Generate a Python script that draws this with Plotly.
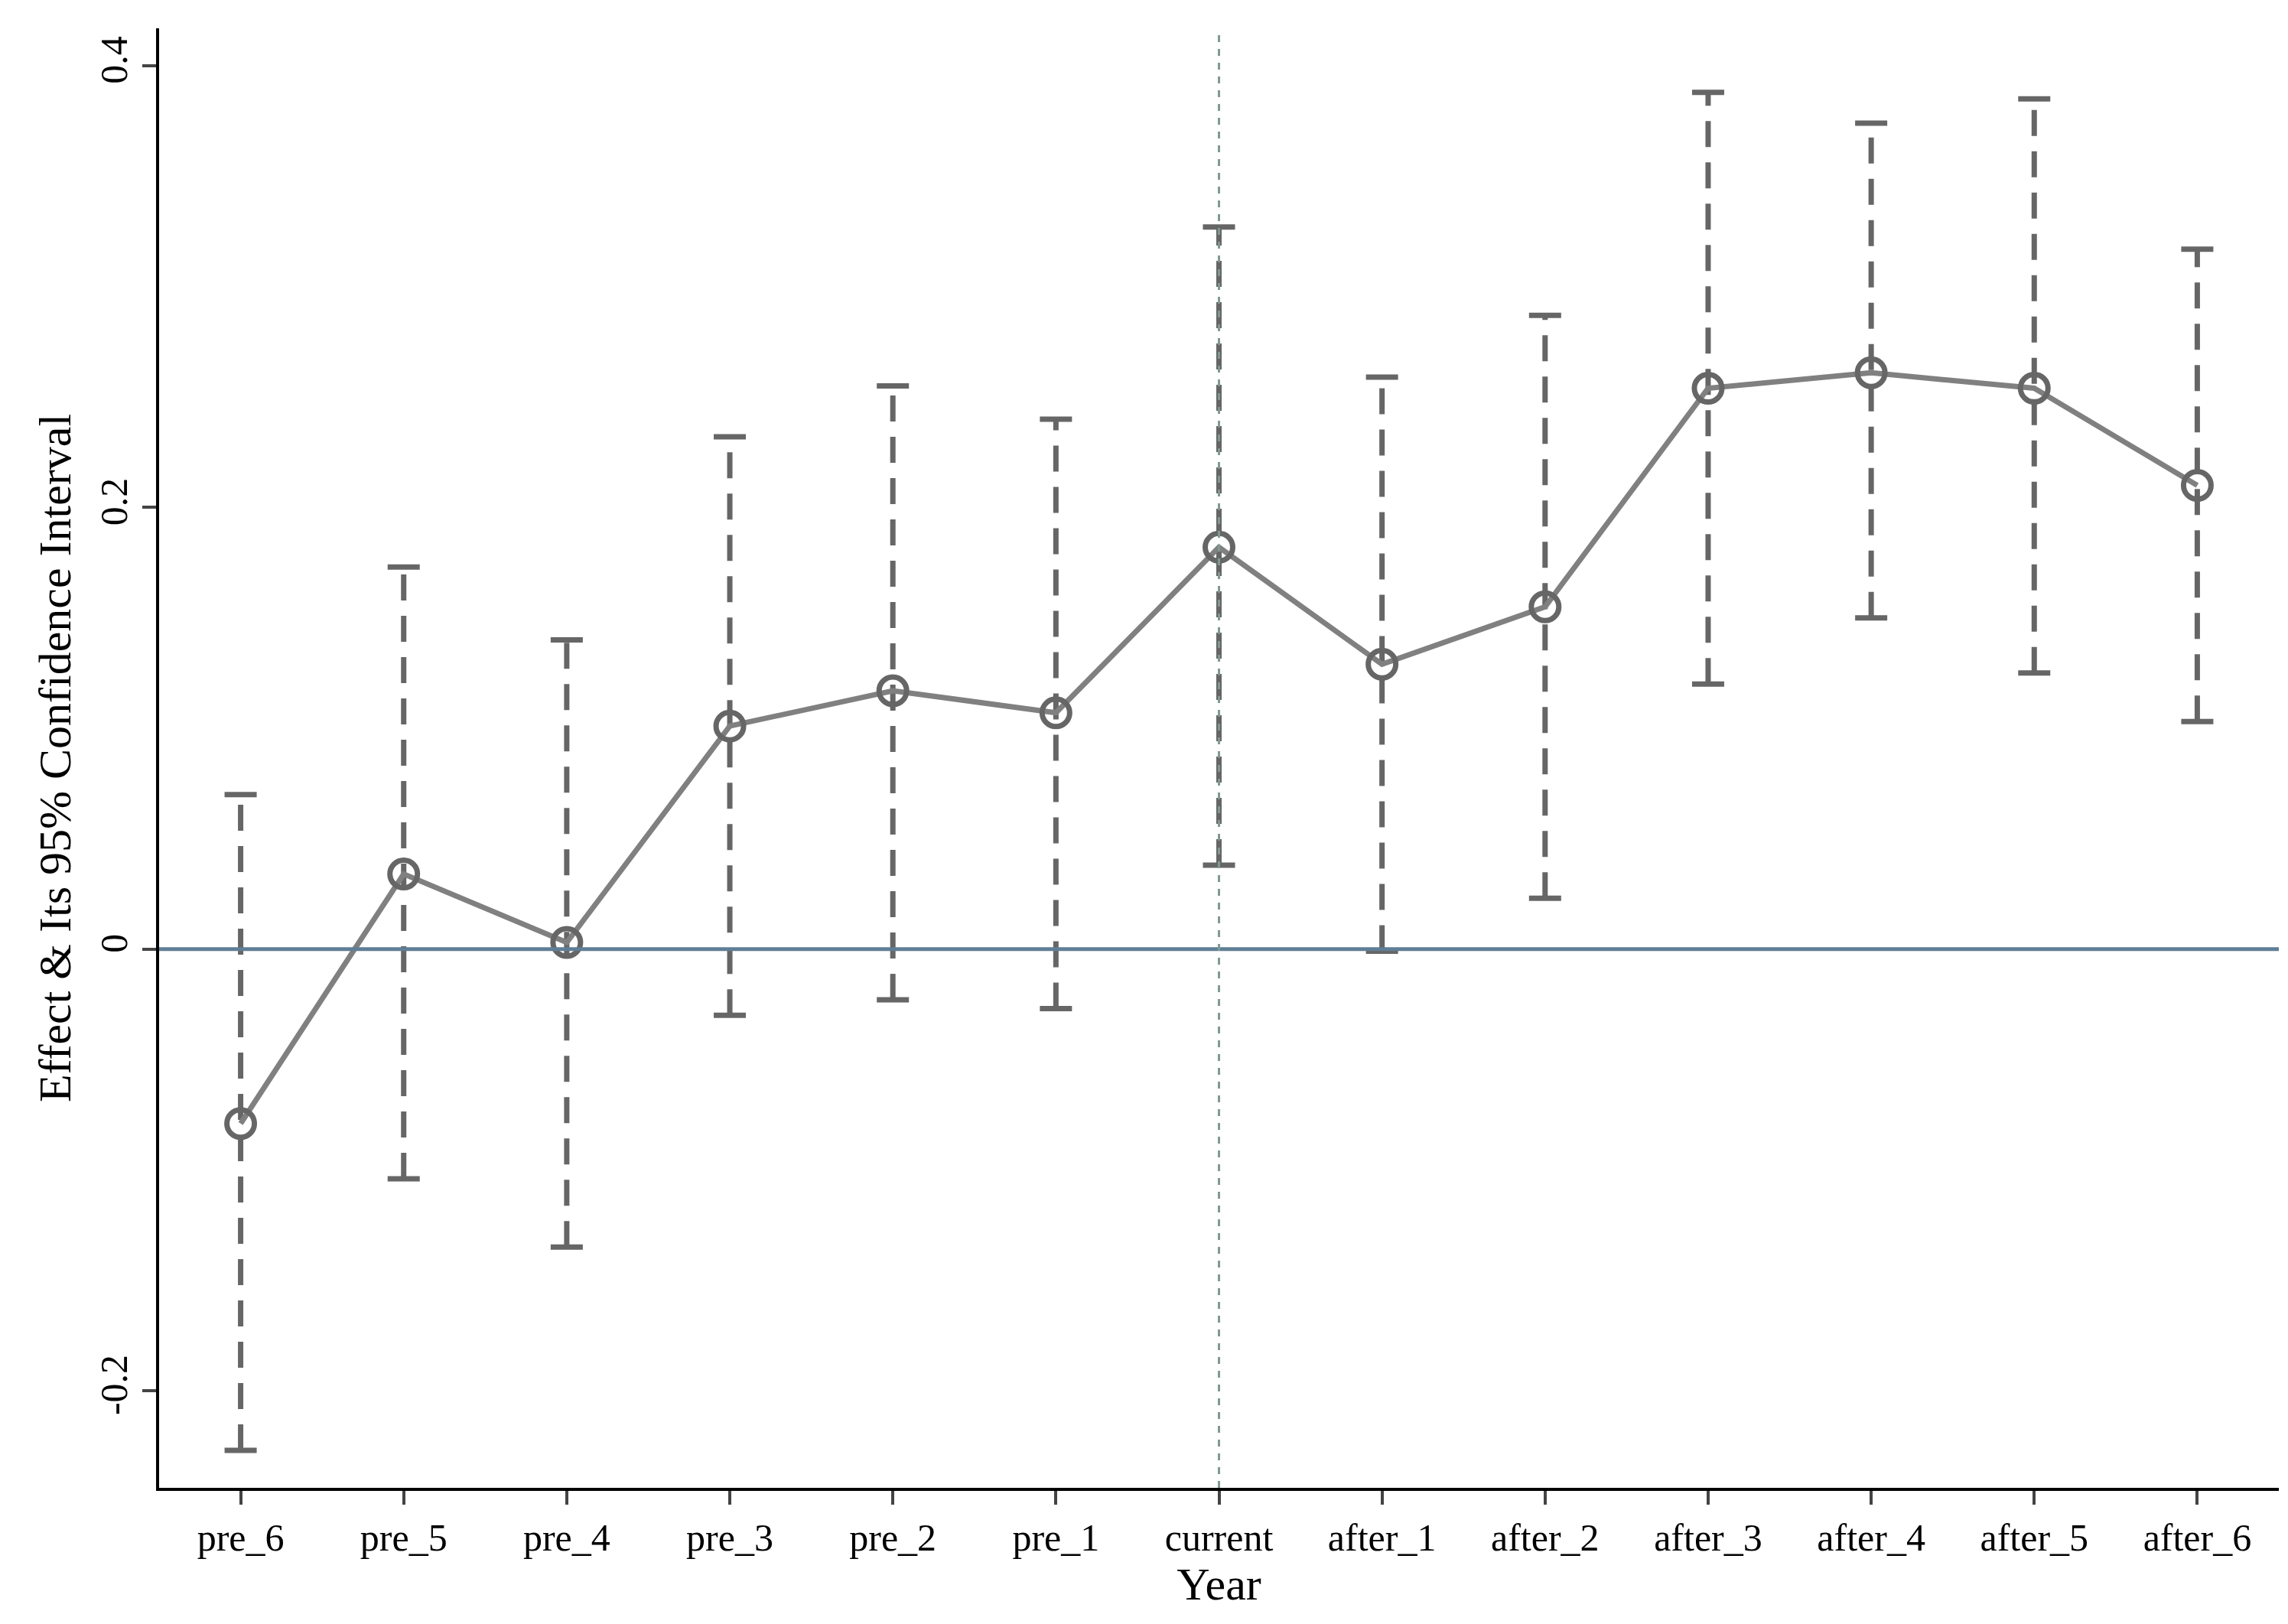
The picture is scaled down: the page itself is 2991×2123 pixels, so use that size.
import plotly.graph_objects as go

# Event-study estimates and 95% CI bounds
years = ['pre_6', 'pre_5', 'pre_4', 'pre_3', 'pre_2', 'pre_1', 'current',
         'after_1', 'after_2', 'after_3', 'after_4', 'after_5', 'after_6']
effect = [-0.079, 0.034, 0.003, 0.101, 0.117, 0.107, 0.182,
          0.129, 0.155, 0.254, 0.261, 0.254, 0.210]
ci_upper = [0.070, 0.173, 0.140, 0.232, 0.255, 0.240, 0.327,
            0.259, 0.287, 0.388, 0.374, 0.385, 0.317]
ci_lower = [-0.227, -0.104, -0.135, -0.030, -0.023, -0.027, 0.038,
            -0.001, 0.023, 0.120, 0.150, 0.125, 0.103]

grey = '#666666'
font = 'Liberation Serif'

fig = go.Figure()

# zero line and event line
fig.add_hline(y=0, line=dict(color='#5f7f95', width=5))
fig.add_vline(x='current', line=dict(color='#7f9a94', width=3, dash='dash'))

# dashed CI segments
xs, ys = [], []
for yr, lo, hi in zip(years, ci_lower, ci_upper):
    xs += [yr, yr, None]
    ys += [lo, hi, None]
fig.add_trace(go.Scatter(x=xs, y=ys, mode='lines',
                         line=dict(color=grey, width=7, dash='34px,20px'),
                         showlegend=False, hoverinfo='skip'))

# caps
fig.add_trace(go.Scatter(x=years + years, y=ci_upper + ci_lower, mode='markers',
                         marker=dict(symbol='line-ew-open', size=30, color=grey,
                                     line=dict(color=grey, width=7)),
                         showlegend=False, hoverinfo='skip'))

# point estimates
fig.add_trace(go.Scatter(x=years, y=effect, mode='lines+markers',
                         line=dict(color='#808080', width=7),
                         marker=dict(symbol='circle-open', size=36, color=grey,
                                     line=dict(color=grey, width=7)),
                         showlegend=False))

fig.update_layout(
    width=2991, height=2123,
    plot_bgcolor='white', paper_bgcolor='white',
    margin=dict(l=200, r=20, t=29, b=186),
    font=dict(family=font, size=50, color='black'),
    xaxis=dict(range=[-0.5, 12.5], showline=True, linecolor='black', linewidth=4,
               ticks='outside', ticklen=18, tickwidth=4, showgrid=False,
               title=dict(text='Year', standoff=0)),
    yaxis=dict(range=[-0.244, 0.417], showline=True, linecolor='black', linewidth=4,
               ticks='outside', ticklen=18, tickwidth=4, showgrid=False, zeroline=False,
               tickvals=[-0.2, 0, 0.2, 0.4], ticktext=['-0.2', '0', '0.2', '0.4'],
               tickangle=-90,
               title=dict(text='Effect & Its 95% Confidence Interval', standoff=10)),
)

fig.write_html("out.html")
